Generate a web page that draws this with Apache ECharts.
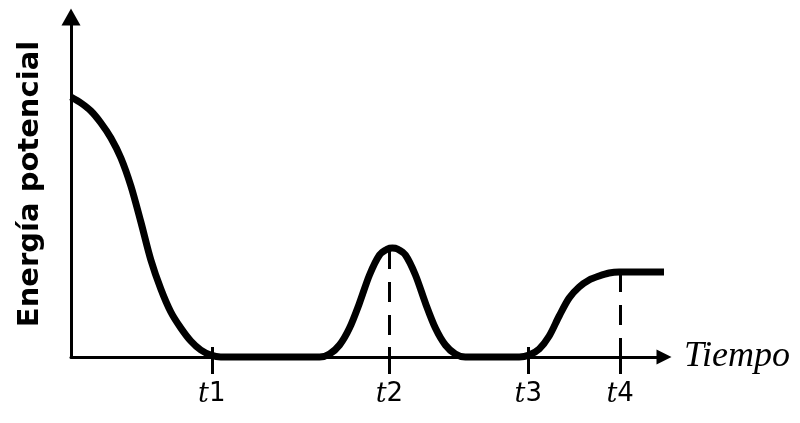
<!DOCTYPE html>
<html>
<head>
<meta charset="utf-8">
<script src="https://cdn.jsdelivr.net/npm/echarts@6/dist/echarts.min.js"></script>
<style>
html,body{margin:0;padding:0;background:#fff;}
#chart{width:800px;height:423px;}
</style>
</head>
<body>
<div id="chart"></div>
<script>
// Curve samples (x: time units, y: energy units)
const curveX = [0, 10, 20, 30, 40, 50, 60, 70, 80, 90, 100, 110, 120, 130, 140, 150,
  249, 259, 269, 279, 289, 299, 309, 317, 322, 327, 335, 345, 355, 365, 375, 385, 395,
  449, 459, 469, 479, 489, 499, 509, 519, 529, 539, 549, 594];
const curveY = [260, 254, 246, 234, 219, 199, 171, 135, 97, 68, 45, 29, 16, 7, 2, 0,
  0, 3, 12, 29, 54, 82, 102, 108, 109, 108, 102, 82, 54, 29, 12, 3, 0,
  0, 2, 8, 21, 41, 59, 70, 77, 81, 84, 85, 85];
// Marked instants on the time axis
const tickValues = [141, 319, 458, 550];
const tickDigits = ['1', '2', '3', '4'];
// Dashed guides (time, energy at that time)
const guideX = [319, 550];
const guideY = [108, 85];

const xMax = 594, yMax = 340;

const chart = echarts.init(document.getElementById('chart'), null, {renderer: 'canvas'});
const labelMap = {};
tickValues.forEach((v, i) => { labelMap[v] = tickDigits[i]; });

const commonX = {
  type: 'value', min: 0, max: xMax, position: 'bottom',
  splitLine: {show: false}
};

chart.setOption({
  animation: false,
  backgroundColor: '#fff',
  grid: {left: 71, right: 136, top: 17, bottom: 66, containLabel: false},
  xAxis: [
    Object.assign({}, commonX, {
      name: 'Tiempo',
      nameLocation: 'end',
      nameGap: 20,
      nameTextStyle: {fontFamily: 'Liberation Serif', fontStyle: 'italic', fontSize: 36, color: '#000', padding: [14, 0, 0, 0]},
      axisLine: {show: true, lineStyle: {color: '#000', width: 3}, symbol: ['none', 'triangle'], symbolSize: [15, 15]},
      axisTick: {show: true, inside: false, length: 17, lineStyle: {color: '#000', width: 3}, customValues: tickValues},
      axisLabel: {
        show: true, margin: 24, customValues: tickValues,
        formatter: v => '{i|t}{n|' + labelMap[v] + '}',
        rich: {
          i: {fontFamily: 'DejaVu Serif', fontStyle: 'italic', fontSize: 27, color: '#000'},
          n: {fontFamily: 'DejaVu Sans', fontSize: 26, color: '#000'}
        }
      }
    }),
    Object.assign({}, commonX, {
      axisLine: {show: false},
      axisTick: {show: true, inside: true, length: 10, lineStyle: {color: '#000', width: 3}, customValues: tickValues},
      axisLabel: {show: false}
    })
  ],
  yAxis: {
    type: 'value', min: 0, max: yMax,
    name: 'Energía potencial',
    nameLocation: 'middle',
    nameRotate: 90,
    nameGap: 26,
    nameTextStyle: {fontFamily: 'DejaVu Sans', fontWeight: 'bold', fontSize: 29, color: '#000', padding: [0, 0, 0, 6]},
    axisLine: {show: true, lineStyle: {color: '#000', width: 3}, symbol: ['none', 'triangle'], symbolSize: [19, 17]},
    axisTick: {show: false},
    axisLabel: {show: false},
    splitLine: {show: false}
  },
  series: [{
    type: 'line',
    data: curveX.map((x, i) => [x, curveY[i]]),
    smooth: 0.3,
    showSymbol: false,
    lineStyle: {color: '#000', width: 7},
    clip: false,
    markLine: {
      silent: true,
      symbol: ['none', 'none'],
      label: {show: false},
      lineStyle: {color: '#000', width: 3, type: [20, 13]},
      data: guideX.map((x, i) => [{coord: [x, guideY[i]]}, {coord: [x, 0]}])
    }
  }]
});
</script>
</body>
</html>
